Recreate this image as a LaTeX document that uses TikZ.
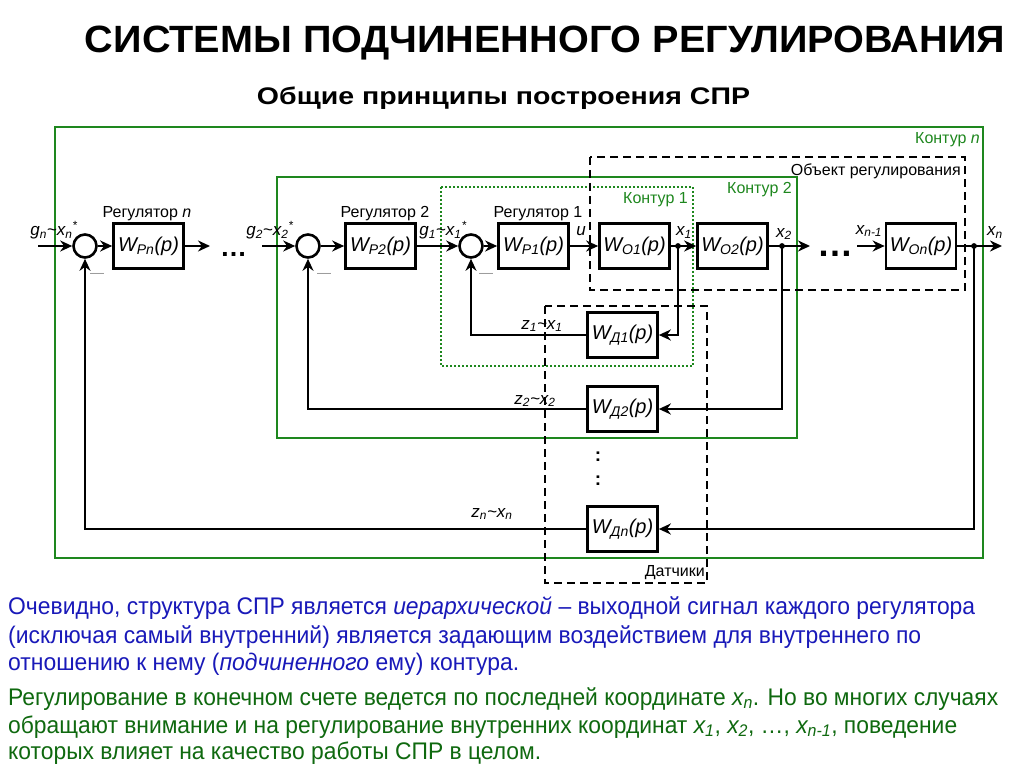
\documentclass[tikz,border=0pt]{standalone}
\usepackage{fontspec}
\setmainfont{Liberation Sans}
\usepackage{graphicx}
\usetikzlibrary{arrows.meta}
\definecolor{kgreen}{RGB}{30,135,30}
\definecolor{tblue}{RGB}{25,25,185}
\definecolor{tgreen}{RGB}{15,105,15}
\definecolor{mgray}{RGB}{150,150,150}
\newcommand\fitw[2]{\resizebox{#1}{\height}{#2}}
\begin{document}
\begin{tikzpicture}[x=1pt,y=-1pt,
  blk/.style={draw, fill=white, line width=2.7pt, minimum width=70pt, minimum height=45pt, inner sep=0pt, font=\fontsize{20}{22}\selectfont\itshape},
  sumc/.style={circle, draw, fill=white, line width=2.6pt, minimum size=23pt, inner sep=0pt},
  sig/.style={line width=2.6pt},
  arr/.style={sig, -{Stealth[length=12pt,width=11pt]}},
  lab/.style={font=\fontsize{16}{18}\selectfont, inner sep=0pt, anchor=base},
  vlab/.style={font=\fontsize{17}{19}\selectfont\itshape, inner sep=0pt, anchor=base},
  klab/.style={font=\fontsize{16}{18}\selectfont, inner sep=0pt, anchor=base east},
  grn/.style={draw=kgreen, line width=1.5pt},
  dsh/.style={draw, line width=2pt, dash pattern=on 8pt off 5pt},
  dotg/.style={draw=kgreen, line width=2.2pt, dash pattern=on 2pt off 2pt},
  minus/.style={font=\fontsize{14}{14}\selectfont, text=mgray, inner sep=0pt},
  para/.style={font=\fontsize{24}{27}\selectfont, inner sep=0pt, anchor=base west}
]
\useasboundingbox (0,0) rectangle (1024,767);
\fill[white] (0,0) rectangle (1024,767);

% titles
\node[anchor=base, inner sep=0pt, font=\fontsize{38}{40}\selectfont\bfseries] (title) at (545,53) {\fitw{920pt}{СИСТЕМЫ ПОДЧИНЕННОГО РЕГУЛИРОВАНИЯ}};
\node[anchor=base, inner sep=0pt, font=\fontsize{24}{26}\selectfont\bfseries] (subtitle) at (503.5,105) {\fitw{493pt}{Общие принципы построения СПР}};

% frames
\draw[grn] (55,127) rectangle (983,558);
\node[klab, text=kgreen] (kn) at (980,144) {Контур \textit{n}};
\draw[grn] (277,177) rectangle (797,438);
\node[klab, text=kgreen] (k2) at (792,194) {Контур 2};
\draw[dotg] (441,187) rectangle (693,366);
\node[klab, text=kgreen] (k1) at (688,204) {Контур 1};
\draw[dsh] (590,157) rectangle (965,290);
\node[klab] (obj) at (961,176) {Объект регулирования};
\draw[dsh] (545,306) rectangle (707,583);
\node[klab] (dat) at (705,576) {Датчики};

% blocks
\node[sumc] (s1) at (85,246) {};
\node[sumc] (s2) at (308,246) {};
\node[sumc] (s3) at (471,246) {};
\node[blk] (wpn) at (148.5,246) {W\textsubscript{Рn}(p)};
\node[blk] (wp2) at (380.5,246) {W\textsubscript{Р2}(p)};
\node[blk] (wp1) at (533.5,246) {W\textsubscript{Р1}(p)};
\node[blk] (wo1) at (634.5,246) {W\textsubscript{О1}(p)};
\node[blk] (wo2) at (732.5,246) {W\textsubscript{О2}(p)};
\node[blk] (won) at (921,246) {W\textsubscript{Оn}(p)};
\node[blk] (wd1) at (622.5,335) {W\textsubscript{Д1}(p)};
\node[blk] (wd2) at (622.5,409) {W\textsubscript{Д2}(p)};
\node[blk] (wdn) at (622.5,529) {W\textsubscript{Дn}(p)};

% labels
\node[lab] (r1) at (147,218) {Регулятор \textit{n}};
\node[lab] (r2) at (385,218) {Регулятор 2};
\node[lab] (r3) at (538,218) {Регулятор 1};
\node[vlab] (lgn) at (54,236) {g\textsubscript{n}\textasciitilde x\textsubscript{n}\textsuperscript{*}};
\node[vlab] (lg2) at (270,236) {g\textsubscript{2}\textasciitilde x\textsubscript{2}\textsuperscript{*}};
\node[vlab] (lg1) at (443,236) {g\textsubscript{1}\textasciitilde x\textsubscript{1}\textsuperscript{*}};
\node[vlab] (lu) at (581,236) {u};
\node[vlab] (lx1) at (684,236) {x\textsubscript{1}};
\node[vlab] (lx2) at (784,237) {x\textsubscript{2}};
\node[vlab] (lxn1) at (869,234) {x\textsubscript{n-1}};
\node[vlab] (lxn) at (995,236) {x\textsubscript{n}};
\node[vlab] (lz1) at (542,329) {z\textsubscript{1}\textasciitilde x\textsubscript{1}};
\node[vlab] (lz2) at (535,404) {z\textsubscript{2}\textasciitilde x\textsubscript{2}};
\node[vlab] (lzn) at (492,517) {z\textsubscript{n}\textasciitilde x\textsubscript{n}};
\node[minus] (m1) at (97,275) {—};
\node[minus] (m2) at (324,275) {—};
\node[minus] (m3) at (486,275) {—};
\node[anchor=base, inner sep=0pt, font=\fontsize{27}{27}\selectfont\bfseries] (dots1) at (233.5,256) {…};
\node[anchor=base, inner sep=0pt, font=\fontsize{36}{36}\selectfont\bfseries] (dots2) at (835,256) {…};
\node[anchor=base, inner sep=0pt, font=\fontsize{19}{19}\selectfont\bfseries] (vd1) at (598,461) {:};
\node[anchor=base, inner sep=0pt, font=\fontsize{19}{19}\selectfont\bfseries] (vd2) at (598,485) {:};

% free ends and branch points
\coordinate (in1) at (38,246);
\coordinate (o1) at (210,246);
\coordinate (in2) at (262,246);
\coordinate (o2) at (810,246);
\coordinate (in3) at (857,246);
\coordinate (out) at (1002,246);
\coordinate (b1) at (678,246);
\coordinate (b2) at (782,246);
\coordinate (bn) at (974,246);

% connectors
\draw[arr] (in1) -- (s1);
\draw[arr] (s1) -- (wpn);
\draw[arr] (wpn) -- (o1);
\draw[arr] (in2) -- (s2);
\draw[arr] (s2) -- (wp2);
\draw[arr] (wp2) -- (s3);
\draw[arr] (s3) -- (wp1);
\draw[arr] (wp1) -- (wo1);
\draw[arr] (wo1) -- (wo2);
\draw[arr] (wo2) -- (o2);
\draw[arr] (in3) -- (won);
\draw[arr] (won) -- (out);
\draw[arr] (b1) |- (wd1);
\draw[arr] (b2) |- (wd2);
\draw[arr] (bn) |- (wdn);
\draw[arr] (wd1) -| (s3);
\draw[arr] (wd2) -| (s2);
\draw[arr] (wdn) -| (s1);
\fill (b1) circle (2.9);
\fill (b2) circle (2.9);
\fill (bn) circle (2.9);

% paragraphs
\node[para, text=tblue] (p1) at (8,614) {\fitw{967pt}{Очевидно, структура СПР является \textit{иерархической} – выходной сигнал каждого регулятора}};
\node[para, text=tblue] (p2) at (8,643) {\fitw{913pt}{(исключая самый внутренний) является задающим воздействием для внутреннего по}};
\node[para, text=tblue] (p3) at (8,670) {\fitw{511pt}{отношению к нему (\textit{подчиненного} ему) контура.}};
\node[para, text=tgreen] (p4) at (8,705) {\fitw{990pt}{Регулирование в конечном счете ведется по последней координате \textit{x\textsubscript{n}}. Но во многих случаях}};
\node[para, text=tgreen] (p5) at (8,733) {\fitw{949pt}{обращают внимание и на регулирование внутренних координат \textit{x\textsubscript{1}}, \textit{x\textsubscript{2}}, …, \textit{x\textsubscript{n-1}}, поведение}};
\node[para, text=tgreen] (p6) at (8,759) {\fitw{533pt}{которых влияет на качество работы СПР в целом.}};
\end{tikzpicture}
\end{document}
